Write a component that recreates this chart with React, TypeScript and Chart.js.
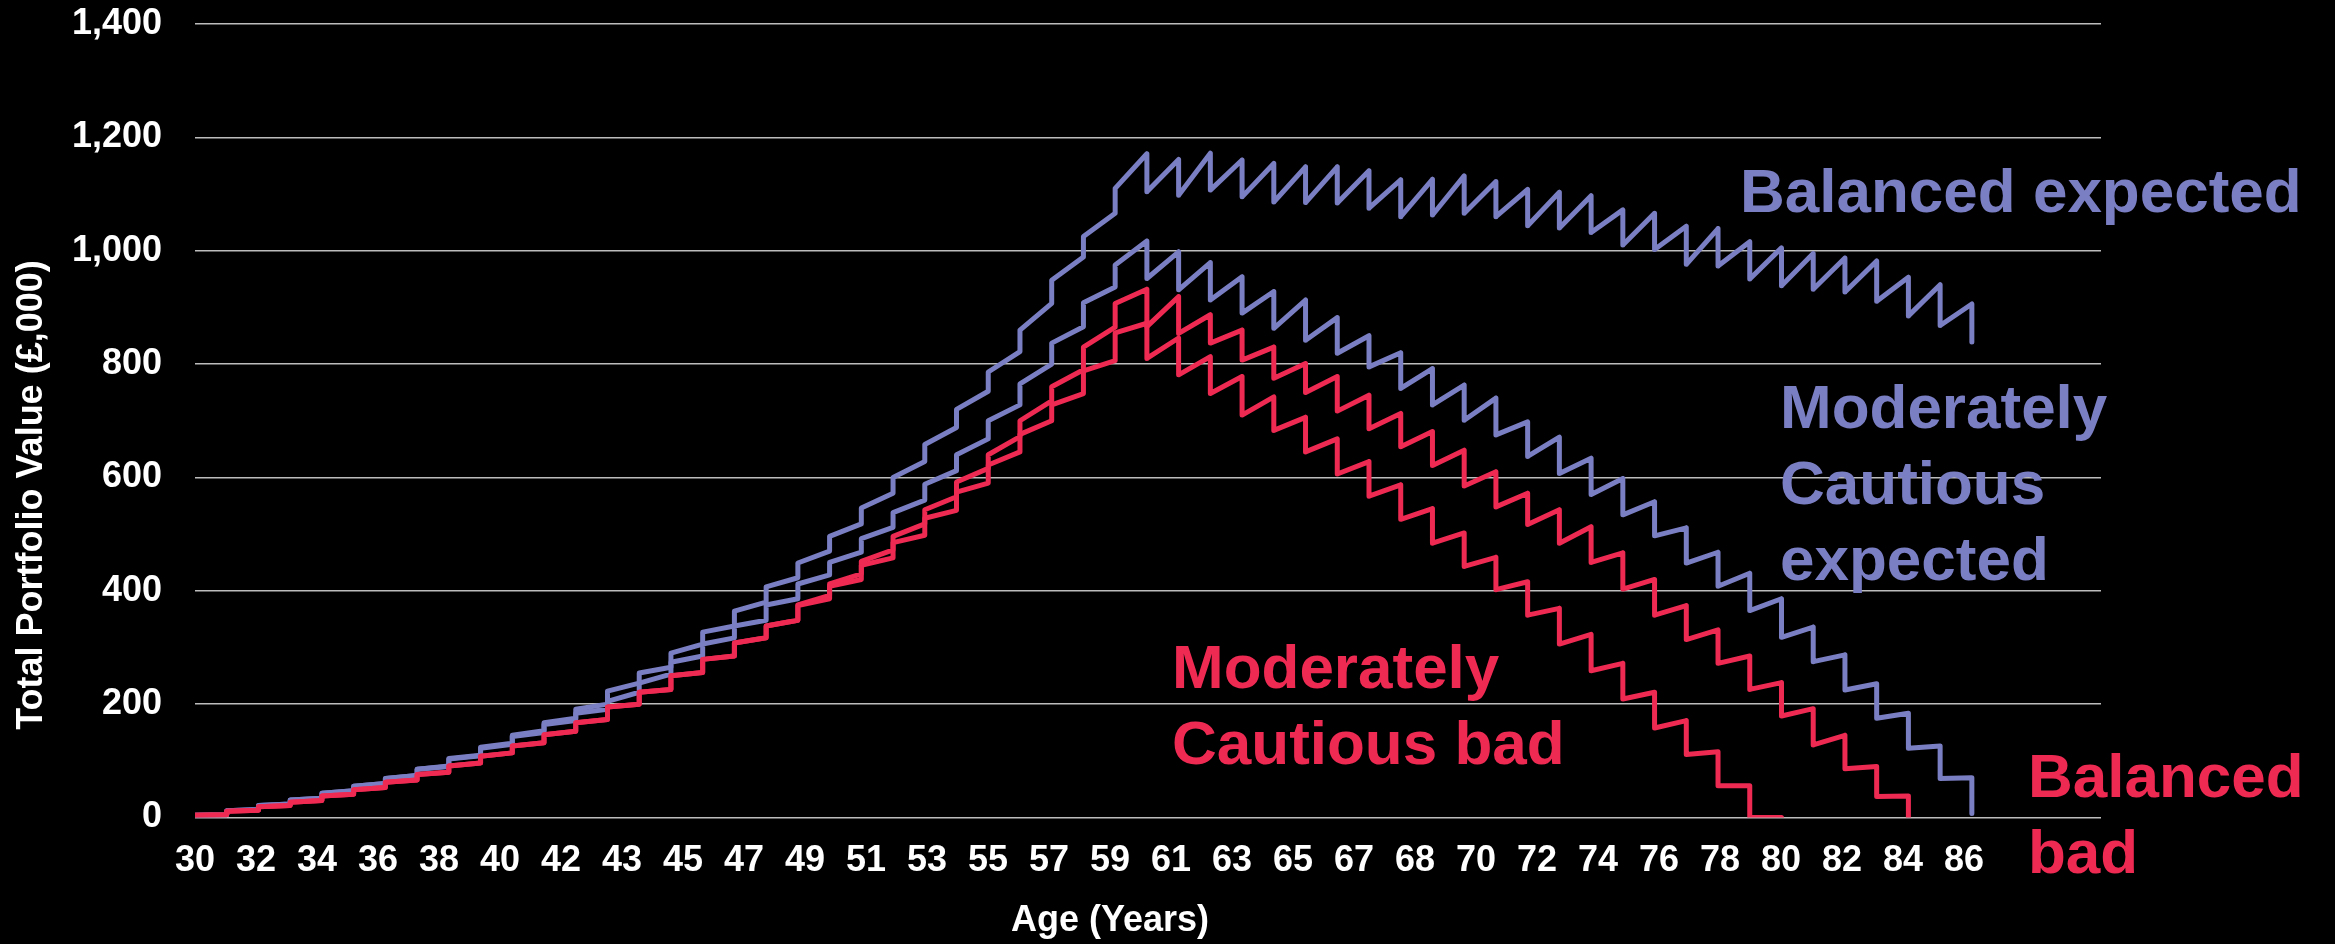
import React, { useEffect, useRef } from 'react';
import { Chart, registerables } from 'chart.js';

Chart.register(...registerables);

const FONT = "'Liberation Sans', Arial, Helvetica, sans-serif";
const BLUE = '#7A7EC2';
const RED = '#EE2A53';
const GRID = '#BDBDBD';

const START_AGE = 30;
const AXIS_MAX_AGE = 90.07;
const AGE_TICK_STEP = 1.9225;
const AGE_TICK_LABELS = [
  '30', '32', '34', '36', '38', '40', '42', '43', '45', '47', '49', '51', '53', '55', '57',
  '59', '61', '63', '65', '67', '68', '70', '72', '74', '76', '78', '80', '82', '84', '86',
];
const VALUE_TICKS = [0, 200, 400, 600, 800, 1000, 1200, 1400];

// Portfolio value (£,000) for each year of age from 30.
// *_OPEN: value at the start of the year, straight after the contribution / withdrawal.
// *_CLOSE: value at the end of the same year, just before the next one (null = series ends).
const BAL_EXP_OPEN = [
  4, 12, 21, 31, 43, 55, 69, 85, 104, 124, 145, 167, 191, 223, 255, 290, 327, 364, 407, 449,
  496, 546, 600, 658, 720, 786, 860, 948, 1025, 1110, 1104, 1098, 1107, 1095, 1086, 1085, 1084, 1075, 1060, 1063,
  1066, 1060, 1044, 1040, 1032, 1010, 1002, 976, 973, 950, 938, 932, 927, 911, 885, 868, 839,
];
const BAL_EXP_CLOSE = [
  5, 14, 24, 34, 47, 60, 74, 91, 110, 131, 153, 175, 200, 237, 265, 306, 338, 380, 423, 470,
  518, 572, 628, 688, 752, 822, 907, 989, 1066, 1171, 1161, 1172, 1160, 1154, 1148, 1148, 1141, 1125, 1126, 1132,
  1122, 1108, 1103, 1097, 1072, 1066, 1043, 1039, 1016, 1005, 995, 987, 982, 953, 940, 906, null,
];

const MOD_EXP_OPEN = [
  4, 12, 21, 31, 43, 55, 69, 85, 103, 122, 143, 164, 184, 205, 237, 274, 306, 338, 375, 412,
  450, 492, 538, 588, 640, 700, 765, 837, 908, 975, 951, 931, 913, 890, 863, 842, 819, 795, 757, 728,
  701, 675, 637, 607, 570, 534, 497, 449, 408, 365, 318, 275, 225, 175, 122, 69, 7,
];
const MOD_EXP_CLOSE = [
  5, 14, 24, 34, 47, 60, 74, 90, 109, 129, 150, 171, 191, 221, 253, 285, 317, 348, 386, 428,
  468, 512, 560, 612, 668, 728, 800, 866, 936, 1017, 998, 979, 954, 928, 913, 882, 850, 820, 792, 763,
  740, 698, 671, 634, 598, 557, 511, 468, 431, 386, 336, 287, 236, 184, 126, 70, null,
];

const BAL_BAD_OPEN = [
  4, 11, 19, 27, 38, 49, 62, 76, 91, 108, 126, 146, 167, 195, 221, 250, 279, 308, 338, 375,
  412, 452, 496, 543, 592, 640, 700, 760, 830, 907, 866, 854, 837, 807, 775, 750, 717, 686, 654, 621,
  585, 548, 517, 484, 450, 403, 357, 314, 272, 226, 179, 128, 86, 37, 0,
];
const BAL_BAD_CLOSE = [
  5, 13, 21, 30, 41, 53, 66, 80, 96, 114, 132, 152, 173, 200, 226, 256, 285, 317, 348, 392,
  430, 472, 518, 566, 616, 672, 735, 790, 865, 932, 919, 887, 860, 830, 801, 778, 745, 713, 681, 648,
  610, 572, 543, 513, 467, 420, 374, 331, 285, 238, 192, 145, 90, 38, null,
];

const MOD_BAD_OPEN = [
  4, 11, 19, 27, 38, 49, 62, 76, 91, 108, 126, 146, 167, 195, 221, 250, 279, 308, 338, 374,
  408, 445, 485, 528, 574, 622, 676, 728, 788, 855, 810, 781, 748, 710, 683, 645, 606, 567, 526, 484,
  443, 402, 357, 306, 259, 209, 158, 111, 56, 0,
];
const MOD_BAD_CLOSE = [
  5, 13, 21, 30, 41, 53, 66, 80, 96, 114, 132, 152, 173, 200, 226, 256, 285, 317, 348, 386,
  420, 458, 498, 542, 590, 645, 700, 748, 806, 872, 846, 813, 778, 742, 706, 668, 628, 587, 545, 502,
  459, 416, 369, 323, 272, 221, 171, 116, 56, 0,
];

// Series names written beside the lines: left edge and baseline of the first line, in pixels.
const SERIES_NOTES = [
  { lines: ['Balanced expected'], color: BLUE, x: 1740, y: 212 },
  { lines: ['Moderately', 'Cautious', 'expected'], color: BLUE, x: 1780, y: 428 },
  { lines: ['Moderately', 'Cautious bad'], color: RED, x: 1172, y: 688 },
  { lines: ['Balanced', 'bad'], color: RED, x: 2028, y: 797 },
];
const NOTE_LINE_GAP = 76;

function toPoints(open: number[], close: (number | null)[]) {
  const pts: { x: number; y: number }[] = [];
  open.forEach((v, i) => {
    const age = START_AGE + i;
    pts.push({ x: age, y: v });
    const c = close[i];
    if (c !== null && c !== undefined) pts.push({ x: age + 1, y: c });
  });
  return pts;
}

const backgroundPlugin = {
  id: 'blackBackground',
  beforeDraw(chart: any) {
    const { ctx, width, height } = chart;
    ctx.save();
    ctx.fillStyle = '#000000';
    ctx.fillRect(0, 0, width, height);
    ctx.restore();
  },
};

const textPlugin = {
  id: 'chartTexts',
  afterDraw(chart: any) {
    const { ctx } = chart;
    ctx.save();
    ctx.fillStyle = '#FFFFFF';
    ctx.font = `bold 36px ${FONT}`;
    ctx.textAlign = 'center';
    ctx.textBaseline = 'alphabetic';
    ctx.fillText('Age (Years)', 1110, 931);

    ctx.save();
    ctx.translate(42, 495);
    ctx.rotate(-Math.PI / 2);
    ctx.fillText('Total Portfolio Value (£,000)', 0, 0);
    ctx.restore();

    ctx.font = `bold 62px ${FONT}`;
    ctx.textAlign = 'left';
    SERIES_NOTES.forEach((n) => {
      ctx.fillStyle = n.color;
      n.lines.forEach((line, i) => ctx.fillText(line, n.x, n.y + i * NOTE_LINE_GAP));
    });
    ctx.restore();
  },
};

export default function App() {
  const canvasRef = useRef<HTMLCanvasElement | null>(null);

  useEffect(() => {
    if (!canvasRef.current) return;
    const line = (label: string, data: any[], color: string, order: number) => ({
      label,
      data,
      borderColor: color,
      backgroundColor: color,
      borderWidth: 5,
      pointRadius: 0,
      tension: 0,
      fill: false,
      borderJoinStyle: 'round' as const,
      borderCapStyle: 'round' as const,
      order,
    });

    const chart = new Chart(canvasRef.current, {
      type: 'line',
      data: {
        datasets: [
          line('Balanced expected', toPoints(BAL_EXP_OPEN, BAL_EXP_CLOSE), BLUE, 2),
          line('Moderately Cautious expected', toPoints(MOD_EXP_OPEN, MOD_EXP_CLOSE), BLUE, 2),
          line('Balanced bad', toPoints(BAL_BAD_OPEN, BAL_BAD_CLOSE), RED, 1),
          line('Moderately Cautious bad', toPoints(MOD_BAD_OPEN, MOD_BAD_CLOSE), RED, 1),
        ],
      },
      options: {
        animation: false,
        responsive: false,
        devicePixelRatio: 1,
        layout: { padding: { left: 0, top: 24, right: 234, bottom: 0 } },
        plugins: {
          legend: { display: false },
          tooltip: { enabled: false },
          title: { display: false },
        },
        scales: {
          x: {
            type: 'linear',
            min: START_AGE,
            max: AXIS_MAX_AGE,
            grid: { display: false, drawTicks: false },
            border: { display: false },
            afterBuildTicks: (scale: any) => {
              scale.ticks = AGE_TICK_LABELS.map((_, k) => ({ value: START_AGE + k * AGE_TICK_STEP }));
            },
            afterFit: (scale: any) => {
              scale.height = 126.5;
              scale.paddingLeft = 0;
              scale.paddingRight = 0;
            },
            ticks: {
              autoSkip: false,
              maxRotation: 0,
              minRotation: 0,
              padding: 22,
              color: '#FFFFFF',
              font: { family: FONT, size: 36, weight: 'bold' },
              callback: (_v: any, i: number) => AGE_TICK_LABELS[i],
            },
          },
          y: {
            min: 0,
            max: 1400,
            grid: { color: GRID, lineWidth: 1.6, drawTicks: false },
            border: { display: false },
            afterBuildTicks: (scale: any) => {
              scale.ticks = VALUE_TICKS.map((v) => ({ value: v }));
            },
            afterFit: (scale: any) => {
              scale.width = 195;
              scale.paddingTop = 0;
              scale.paddingBottom = 0;
            },
            ticks: {
              padding: 33,
              color: '#FFFFFF',
              font: { family: FONT, size: 36, weight: 'bold' },
              callback: (v: any) => Number(v).toLocaleString('en-US'),
            },
          },
        },
      },
      plugins: [backgroundPlugin, textPlugin],
    });
    return () => chart.destroy();
  }, []);

  return (
    <div style={{ position: 'absolute', left: 0, top: 0, width: 2335, height: 944, background: '#000' }}>
      <canvas ref={canvasRef} width={2335} height={944} style={{ display: 'block' }} />
    </div>
  );
}
